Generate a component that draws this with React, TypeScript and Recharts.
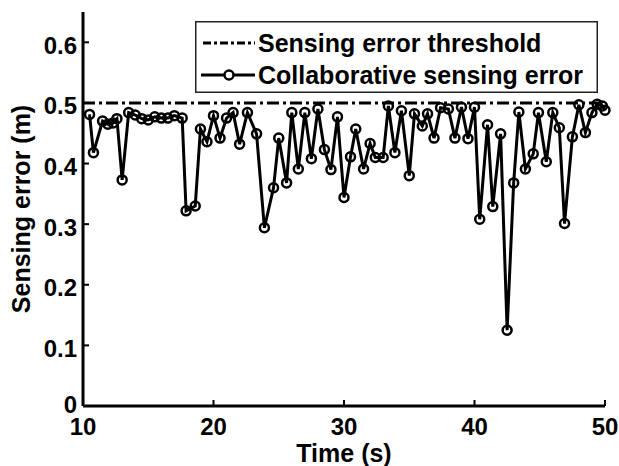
import { LineChart, Line, XAxis, YAxis, ReferenceLine, Legend, Label } from 'recharts'

document.body.style.margin = '0'

// time (s) of each sample
const times = [
  10.5, 10.8, 11.5, 11.9, 12.3, 12.6, 13.0, 13.5, 14.0, 14.5,
  15.0, 15.5, 16.0, 16.5, 17.0, 17.6, 17.9, 18.6, 19.0, 19.5,
  20.0, 20.5, 21.0, 21.5, 22.0, 22.6, 23.3, 23.9, 24.6, 25.0,
  25.6, 26.0, 26.5, 27.0, 27.5, 28.0, 28.5, 29.0, 29.5, 30.0,
  30.5, 30.9, 31.5, 32.0, 32.4, 33.0, 33.4, 33.9, 34.4, 35.0,
  35.4, 36.0, 36.4, 36.9, 37.4, 38.0, 38.5, 39.0, 39.5, 40.0,
  40.4, 41.0, 41.4, 42.0, 42.5, 43.0, 43.4, 43.9, 44.5, 44.9,
  45.5, 46.0, 46.5, 46.9, 47.5, 48.0, 48.5, 49.0, 49.4, 49.8, 50.0,
]

// collaborative sensing error (m)
const sensingError = [
  0.481, 0.418, 0.470, 0.465, 0.467, 0.474, 0.373, 0.484, 0.480, 0.474,
  0.472, 0.477, 0.475, 0.475, 0.479, 0.475, 0.322, 0.330, 0.457, 0.436,
  0.479, 0.442, 0.475, 0.484, 0.432, 0.484, 0.449, 0.294, 0.360, 0.442,
  0.368, 0.484, 0.391, 0.484, 0.408, 0.490, 0.423, 0.390, 0.477, 0.344,
  0.411, 0.457, 0.391, 0.433, 0.410, 0.410, 0.495, 0.418, 0.487, 0.380,
  0.482, 0.462, 0.482, 0.442, 0.492, 0.490, 0.442, 0.493, 0.441, 0.493,
  0.308, 0.464, 0.329, 0.449, 0.125, 0.368, 0.485, 0.391, 0.416, 0.484,
  0.403, 0.484, 0.459, 0.301, 0.444, 0.497, 0.451, 0.484, 0.498, 0.495, 0.488,
]

const threshold = 0.5
const xTicks = [10, 20, 30, 40, 50]
const yTicks = [0, 0.1, 0.2, 0.3, 0.4, 0.5, 0.6]

const data = times.map((t, i) => ({ t, err: sensingError[i] }))

const font = '"Liberation Sans", Arial, Helvetica, sans-serif'

function XTick({ x, y, payload }: any) {
  return (
    <g>
      <line x1={x} x2={x} y1={y - 12} y2={y - 18} stroke="#000" strokeWidth={2} />
      <text x={x} y={y} dy="0.71em" textAnchor="middle" fontFamily={font} fontWeight="bold" fontSize={24} fill="#000">
        {payload.value}
      </text>
    </g>
  )
}

function YTick({ x, y, payload }: any) {
  const v = payload.value
  return (
    <g>
      <line x1={x + 6} x2={x + 12} y1={y} y2={y} stroke="#000" strokeWidth={2} />
      <text x={x} y={v === 0 ? y - 2 : y + 3} textAnchor="end" dominantBaseline="central" fontFamily={font} fontWeight="bold" fontSize={24} fill="#000">
        {v === 0 ? '0' : v.toFixed(1)}
      </text>
    </g>
  )
}

function LegendBox() {
  return (
    <svg width={403} height={72} style={{ display: 'block' }}>
      <rect x={0.75} y={0.75} width={401.5} height={70.5} fill="#fff" stroke="#222" strokeWidth={1.5} />
      <line x1={8} x2={60} y1={22} y2={22} stroke="#000" strokeWidth={3} strokeDasharray="8 3 3 3" />
      <text x={63} y={22} dominantBaseline="central" fontFamily={font} fontWeight="bold" fontSize={25} fill="#000">
        Sensing error threshold
      </text>
      <line x1={6} x2={60} y1={54} y2={54} stroke="#000" strokeWidth={3} />
      <circle cx={34} cy={54} r={4.5} fill="#fff" stroke="#000" strokeWidth={2.5} />
      <text x={63} y={54} dominantBaseline="central" fontFamily={font} fontWeight="bold" fontSize={25} fill="#000">
        Collaborative sensing error
      </text>
    </svg>
  )
}

export default function App() {
  return (
    <div style={{ background: '#fff', width: 619, height: 466 }}>
      <LineChart width={619} height={466} data={data} margin={{ top: 12, right: 14, left: 0, bottom: 0 }}>
        <XAxis
          dataKey="t"
          type="number"
          domain={[10, 50]}
          ticks={xTicks}
          interval={0}
          height={60}
          tickSize={0}
          tickMargin={12}
          tick={<XTick />}
          axisLine={{ stroke: '#000', strokeWidth: 3 }}
        >
          <Label
            content={({ viewBox }: any) => (
              <text x={viewBox.x + viewBox.width / 2} y={viewBox.y + 47} textAnchor="middle" dominantBaseline="central"
                fontFamily={font} fontWeight="bold" fontSize={25} fill="#000">
                Time (s)
              </text>
            )}
          />
        </XAxis>
        <YAxis
          type="number"
          domain={[0, 0.65]}
          ticks={yTicks}
          interval={0}
          width={83}
          tickSize={0}
          tickMargin={6}
          tick={<YTick />}
          axisLine={{ stroke: '#000', strokeWidth: 3 }}
        >
          <Label
            content={({ viewBox }: any) => {
              const cx = viewBox.x + 21
              const cy = viewBox.y + viewBox.height / 2
              return (
                <text x={cx} y={cy} transform={`rotate(-90 ${cx} ${cy})`} textAnchor="middle" dominantBaseline="central"
                  fontFamily={font} fontWeight="bold" fontSize={25} fill="#000">
                  Sensing error (m)
                </text>
              )
            }}
          />
        </YAxis>
        <ReferenceLine y={threshold} stroke="#000" strokeWidth={3} strokeDasharray="12 4 3 4" />
        <Line
          type="linear"
          dataKey="err"
          stroke="#000"
          strokeWidth={3}
          dot={{ r: 4.5, stroke: '#000', strokeWidth: 2.5, fill: 'none' }}
          activeDot={false}
          isAnimationActive={false}
        />
        <Legend
          layout="horizontal"
          verticalAlign="middle"
          align="center"
          content={() => <LegendBox />}
          wrapperStyle={{ position: 'absolute', top: 21, left: 195, width: 403, height: 72 }}
        />
      </LineChart>
    </div>
  )
}
